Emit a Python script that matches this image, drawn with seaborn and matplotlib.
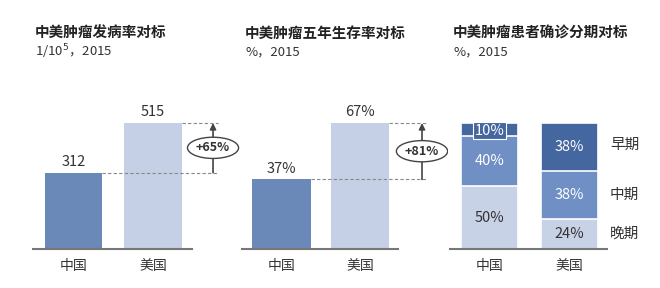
import matplotlib
matplotlib.use("Agg")
import matplotlib.pyplot as plt
import seaborn as sns
import pandas as pd

sns.set_theme(style="white")
plt.rcParams['font.family'] = ['Noto Sans CJK SC', 'DejaVu Sans']

# ---- data ----
countries = ["中国", "美国"]
incidence = [312, 515]          # 1/10^5
survival = [37, 67]             # %
stage_names = ["早期", "中期", "晚期"]
stage_early = [10, 38]
stage_mid = [40, 38]
stage_late = [50, 24]
titles = ["中美肿瘤发病率对标", "中美肿瘤五年生存率对标", "中美肿瘤患者确诊分期对标"]
subtitles = ["1/10$^5$，2015", "%，2015", "%，2015"]
growth_labels = ["+65%", "+81%"]

C_DARK = "#6a88b8"
C_LIGHT = "#c5d0e6"
C_EARLY = "#45679f"
C_MID = "#6f8fc5"
C_LATE = "#c8d2e6"
TXT = "#333333"

W, H = 660, 288
fig = plt.figure(figsize=(W / 100, H / 100), dpi=100)


def make_ax(L, R, base, top):
    return fig.add_axes([L / W, (H - base) / H, (R - L) / W, (base - top) / H])


def set_lims(ax, L, R, c0, s, base, top, scale):
    ax.set_xlim((L - c0) / s, (R - c0) / s)
    ax.set_ylim(0, (base - top) / scale)


def style(ax, b0, b1):
    for sp in ["top", "right", "left"]:
        ax.spines[sp].set_visible(False)
    ax.spines["bottom"].set_color("#777777")
    ax.spines["bottom"].set_linewidth(1.5)
    ax.spines["bottom"].set_bounds(b0, b1)
    ax.set_yticks([])
    ax.tick_params(axis="x", length=0, pad=7, labelsize=10, labelcolor=TXT)
    ax.set_xlabel("")
    ax.set_ylabel("")


def simple_panel(ax, vals, fmt, glabel, xarrow, xdash, w, lims):
    df = pd.DataFrame({"c": countries, "v": vals})
    sns.barplot(data=df, x="c", y="v", hue="c", palette=[C_DARK, C_LIGHT],
                width=w, legend=False, ax=ax, saturation=1, edgecolor="none")
    set_lims(ax, *lims)
    ymax = ax.get_ylim()[1]
    for i, v in enumerate(vals):
        ax.text(i, v + ymax * 0.025, fmt.format(v), ha="center", va="bottom",
                fontsize=10.5, color=TXT)
    # dashed guides
    ax.plot([0 + w / 2, xdash], [vals[0], vals[0]], ls=(0, (3, 2)), color="#888888", lw=0.8)
    ax.plot([1 + w / 2, xdash], [vals[1], vals[1]], ls=(0, (3, 2)), color="#888888", lw=0.8)
    ax.annotate("", xy=(xarrow, vals[1]), xytext=(xarrow, vals[0]),
                arrowprops=dict(arrowstyle="-|>", color="#444444", lw=1.2,
                                shrinkA=0, shrinkB=0, mutation_scale=9))
    ax.text(xarrow, (vals[0] + vals[1]) / 2, glabel, ha="center", va="center",
            fontsize=9, fontweight="bold", color=TXT,
            bbox=dict(boxstyle="ellipse,pad=0.08", fc="white", ec="#444444", lw=1))


# Panel 1
lims1 = (30, 235, 73.5, 79.5, 249, 100, 126 / 515)
ax1 = make_ax(30, 235, 249, 100)
simple_panel(ax1, incidence, "{}", growth_labels[0], 1.755, 1.82, 0.72, lims1)
style(ax1, -0.51, 1.49)

# Panel 2
lims2 = (240, 445, 281.5, 78.5, 249, 100, 126 / 67)
ax2 = make_ax(240, 445, 249, 100)
simple_panel(ax2, survival, "{}%", growth_labels[1], 1.79, 1.85, 0.74, lims2)
style(ax2, -0.50, 1.48)

# Panel 3 (stacked)
lims3 = (448, 655, 489.5, 80, 249, 100, 1.26)
ax3 = make_ax(448, 655, 249, 100)
tot = [a + b + c for a, b, c in zip(stage_early, stage_mid, stage_late)]
lm = [b + c for b, c in zip(stage_mid, stage_late)]
w3 = 0.71
for vals, col in [(tot, C_EARLY), (lm, C_MID), (stage_late, C_LATE)]:
    df = pd.DataFrame({"c": countries, "v": vals})
    sns.barplot(data=df, x="c", y="v", color=col, width=w3, ax=ax3, saturation=1,
                edgecolor="white", linewidth=1.2)
set_lims(ax3, *lims3)
for i in range(2):
    late, mid, early = stage_late[i], stage_mid[i], stage_early[i]
    ax3.text(i, late / 2, f"{late}%", ha="center", va="center", fontsize=10.5, color=TXT)
    ax3.text(i, late + mid / 2, f"{mid}%", ha="center", va="center", fontsize=10.5, color="white")
    if early < 15:
        ax3.text(i, late + mid + early / 2 - 1, f"{early}%", ha="center", va="center",
                 fontsize=10.5, color="white",
                 bbox=dict(boxstyle="square,pad=0.1", fc=C_EARLY, ec="white", lw=0.8))
    else:
        ax3.text(i, late + mid + early / 2, f"{early}%", ha="center", va="center",
                 fontsize=10.5, color="white")
# stage labels next to US bar
xs = 1.69
ax3.text(xs, stage_late[1] + stage_mid[1] + stage_early[1] / 2 + 2, stage_names[0],
         ha="center", va="center", fontsize=10.5, color=TXT)
ax3.text(xs, stage_late[1] + stage_mid[1] / 2, stage_names[1],
         ha="center", va="center", fontsize=10.5, color=TXT)
ax3.text(xs, stage_late[1] / 2, stage_names[2],
         ha="center", va="center", fontsize=10.5, color=TXT)
style(ax3, -0.49, 1.47)

# Titles
for x, t, st in zip([35, 245, 453], titles, subtitles):
    fig.text(x / W, 1 - 33 / H, t, ha="left", va="center", fontsize=10.5,
             fontweight="bold", color="#222222")
    fig.text(x / W, 1 - 52 / H, st, ha="left", va="center", fontsize=9.5,
             color="#333333")

fig.savefig("out.png", dpi=100, facecolor="white")
